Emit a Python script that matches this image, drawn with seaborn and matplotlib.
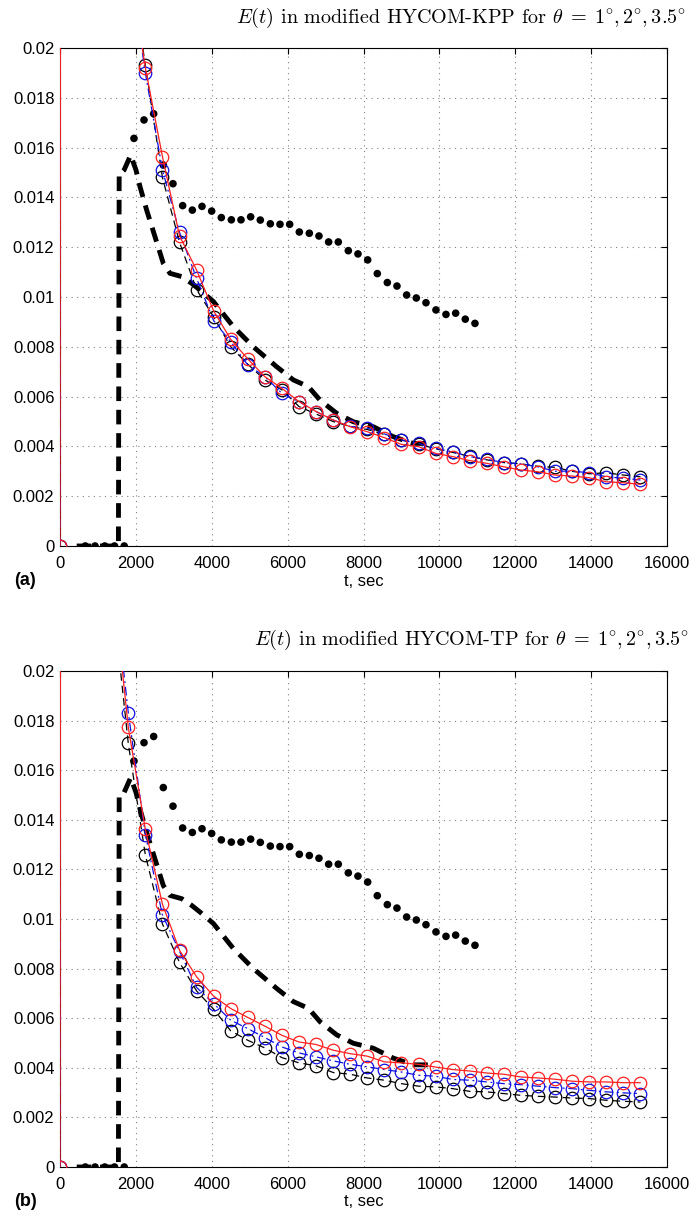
import matplotlib
matplotlib.use("Agg")
import matplotlib.pyplot as plt
import seaborn as sns
import pandas as pd

# ---------------- data ----------------
t_model = [0, 450, 900, 1350, 1800, 2250, 2700, 3150, 3600, 4050, 4500, 4950,
           5400, 5850, 6300, 6750, 7200, 7650, 8100, 8550, 9000, 9450, 9900,
           10350, 10800, 11250, 11700, 12150, 12600, 13050, 13500, 13950,
           14400, 14850, 15300]

# panel (a): HYCOM-KPP
kpp_1deg = [0, 1.0, 0.06, 0.035, 0.0240, 0.0193, 0.0148, 0.0122, 0.0103, 0.0092,
            0.0080, 0.0073, 0.00667, 0.00627, 0.0056, 0.0053, 0.0050, 0.0048,
            0.00468, 0.00448, 0.00425, 0.0041, 0.0039, 0.00376, 0.0036, 0.00346,
            0.00335, 0.0033, 0.0032, 0.00316, 0.0030, 0.0029, 0.00294, 0.00285,
            0.00278]
kpp_2deg = [0, 1.0, 0.06, 0.035, 0.0237, 0.0190, 0.0151, 0.0126, 0.01075, 0.00905,
            0.0082, 0.00727, 0.0068, 0.00613, 0.0058, 0.0054, 0.00506, 0.0048,
            0.00473, 0.0045, 0.00426, 0.00412, 0.00392, 0.00378, 0.00359, 0.00348,
            0.00335, 0.0033, 0.00318, 0.0030, 0.00301, 0.00294, 0.00278, 0.00272,
            0.00265]
kpp_35deg = [0, 1.0, 0.06, 0.035, 0.0237, 0.0192, 0.01564, 0.01246, 0.01108,
             0.00944, 0.0083, 0.00751, 0.0068, 0.00633, 0.0058, 0.0054, 0.00506,
             0.00479, 0.00459, 0.00435, 0.00408, 0.00399, 0.00372, 0.00359,
             0.00343, 0.00332, 0.00318, 0.00305, 0.00298, 0.00285, 0.00281,
             0.00274, 0.00258, 0.00254, 0.00248]

# panel (b): HYCOM-TP
tp_1deg = [0, 1.0, 0.05, 0.0235, 0.01708, 0.01258, 0.0098, 0.00825, 0.0071, 0.00636,
           0.00549, 0.00511, 0.0048, 0.00441, 0.0042, 0.00408, 0.00381, 0.00374,
           0.00359, 0.0035, 0.00336, 0.00326, 0.00323, 0.00316, 0.00305, 0.00303,
           0.00296, 0.00289, 0.00285, 0.00282, 0.00278, 0.00276, 0.00269, 0.00265,
           0.00262]
tp_2deg = [0, 1.0, 0.05, 0.0245, 0.01832, 0.0134, 0.01016, 0.0087, 0.00724, 0.00659,
           0.00592, 0.00558, 0.00522, 0.00484, 0.0046, 0.00444, 0.00428, 0.00414,
           0.00404, 0.00393, 0.00383, 0.0037, 0.00366, 0.00353, 0.0035, 0.00343,
           0.00336, 0.00332, 0.00326, 0.0032, 0.00316, 0.00309, 0.00303, 0.00299,
           0.00296]
tp_35deg = [0, 1.0, 0.05, 0.0243, 0.01773, 0.01361, 0.0106, 0.00874, 0.00767,
            0.00689, 0.00639, 0.00603, 0.00568, 0.00531, 0.00504, 0.00494, 0.00471,
            0.00457, 0.00447, 0.00424, 0.0042, 0.00414, 0.00403, 0.00393, 0.00387,
            0.00379, 0.00374, 0.00363, 0.00359, 0.00354, 0.00346, 0.00343, 0.00343,
            0.0034, 0.0034]

# reference curve (thick dashed)
t_ref = [440, 1000, 1540, 1560, 1626, 1690, 1863, 2003, 2109, 2284, 2504, 2723,
         2899, 3207, 3470, 3690, 4042, 4569, 5096, 5711, 6150, 6546, 6853, 7292,
         7731, 8258, 8785, 9312, 9752]
e_ref = [0, 0, 0, 0.0150, 0.0150, 0.0151, 0.0157, 0.0151, 0.01443, 0.01349,
         0.01242, 0.01135, 0.01095, 0.01082, 0.01055, 0.01028, 0.00982, 0.00881,
         0.0080, 0.0072, 0.00667, 0.0064, 0.00586, 0.00533, 0.00499, 0.00479,
         0.00439, 0.00412, 0.00412]

# dotted curve (filled dots)
t_dots = [667, 924, 1180, 1437, 1693, 1950, 2214, 2469, 2723, 2978, 3233, 3488,
          3743, 3998, 4252, 4516, 4771, 5025, 5280, 5544, 5799, 6054, 6308, 6572,
          6826, 7081, 7336, 7600, 7854, 8110, 8364, 8628, 8882, 9137, 9392, 9647,
          9910, 10174, 10429, 10683, 10938]
e_dots = [0, 0, 0, 0, 0, 0.01637, 0.01711, 0.01736, 0.0153, 0.01455, 0.01367,
          0.01349, 0.01364, 0.01345, 0.01319, 0.0131, 0.0131, 0.01322, 0.01309,
          0.01294, 0.01292, 0.01292, 0.01261, 0.01256, 0.01245, 0.01221, 0.01221,
          0.01186, 0.01173, 0.01149, 0.01094, 0.01058, 0.01044, 0.01008, 0.00996,
          0.00977, 0.00948, 0.0093, 0.00935, 0.00911, 0.00894]

x_ticks = [0, 2000, 4000, 6000, 8000, 10000, 12000, 14000, 16000]
x_tick_labels = ["0", "2000", "4000", "6000", "8000", "10000", "12000", "14000", "16000"]
y_ticks = [0, 0.002, 0.004, 0.006, 0.008, 0.01, 0.012, 0.014, 0.016, 0.018, 0.02]
y_tick_labels = ["0", "0.002", "0.004", "0.006", "0.008", "0.01", "0.012",
                 "0.014", "0.016", "0.018", "0.02"]

titles = [r"$E(t)$ in modified HYCOM-KPP for $\theta\;=\;1^{\circ},2^{\circ},3.5^{\circ}$",
          r"$E(t)$ in modified HYCOM-TP for $\theta\;=\;1^{\circ},2^{\circ},3.5^{\circ}$"]
panel_labels = ["(a)", "(b)"]
x_label = "t, sec"

# ---------------- style ----------------
sns.set_theme(style="white")
plt.rcParams["font.family"] = ["Liberation Sans", "DejaVu Sans"]
plt.rcParams["mathtext.fontset"] = "cm"

W, H = 694, 1214
fig = plt.figure(figsize=(W / 100, H / 100), dpi=100)
fig.patch.set_facecolor("white")

ax_rects = [
    [60 / W, 1 - 546 / H, 607 / W, 498 / H],
    [60 / W, 1 - 1167 / H, 607 / W, 496 / H],
]
title_y = [1 - 18 / H, 1 - 640 / H]
title_x = [686 / W, 689 / W]
label_y = [1 - 581 / H, 1 - 1201 / H]

panels = [(kpp_1deg, kpp_2deg, kpp_35deg), (tp_1deg, tp_2deg, tp_35deg)]

for i, (rect, series) in enumerate(zip(ax_rects, panels)):
    ax = fig.add_axes(rect)
    ax.set_facecolor("white")

    # thick dashed reference
    sns.lineplot(x=t_ref, y=e_ref, ax=ax, color="black", linewidth=3.5,
                 dashes=False, linestyle=(0, (3.0, 1.8)), estimator=None,
                 sort=False, errorbar=None, zorder=3)
    # dots
    sns.scatterplot(x=t_dots, y=e_dots, ax=ax, color="black", s=30,
                    edgecolor="none", linewidth=0, zorder=4)

    styles = [("black", (0, (6, 4))), ("#1010e0", (0, (7, 3, 1.5, 3))), ("#ff2020", "-")]
    for vals, (col, ls) in zip(series, styles):
        sns.lineplot(x=t_model, y=vals, ax=ax, color=col, linewidth=0.9,
                     linestyle=ls, marker="o", markersize=9,
                     markerfacecolor="none", markeredgecolor=col,
                     markeredgewidth=0.9, estimator=None, sort=False,
                     errorbar=None, zorder=5)

    ax.set_xlim(0, 16000)
    ax.set_ylim(0, 0.02)
    ax.set_xticks(x_ticks)
    ax.set_xticklabels(x_tick_labels)
    ax.set_yticks(y_ticks)
    ax.set_yticklabels(y_tick_labels)
    ax.tick_params(direction="in", top=True, right=True, length=4.5, width=0.8,
                   labelsize=12, colors="black")
    ax.tick_params(axis="x", pad=7)
    ax.tick_params(axis="y", pad=4)
    ax.grid(True, linestyle=(0, (1, 4)), color="0.5", linewidth=0.8)
    for sp in ax.spines.values():
        sp.set_color("black")
        sp.set_linewidth(0.8)
        sp.set_visible(True)
    ax.set_xlabel(x_label, fontsize=12, labelpad=2, color="black")
    ax.set_ylabel("")

    fig.text(title_x[i], title_y[i], titles[i], ha="right", va="center",
             fontsize=14.5, family="cmr10", color="black")
    fig.text(14 / W, label_y[i], panel_labels[i], ha="left", va="center",
             fontsize=13, fontweight="bold", color="black")

fig.savefig("out.png", dpi=100, facecolor="white")
